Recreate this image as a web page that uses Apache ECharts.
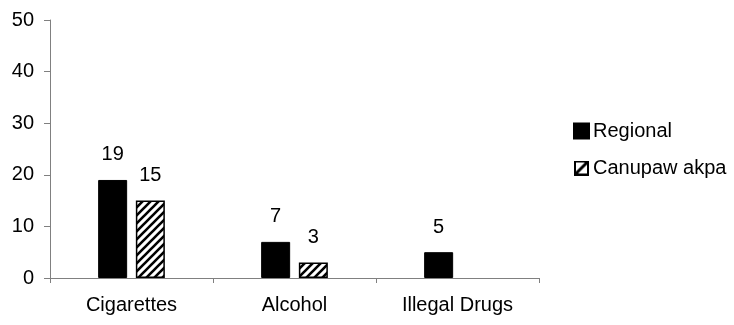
<!DOCTYPE html>
<html>
<head>
<meta charset="utf-8">
<script src="https://cdn.jsdelivr.net/npm/echarts@6/dist/echarts.min.js"></script>
<style>
  html, body { margin: 0; padding: 0; background: #fff; }
  #chart { width: 734px; height: 325px; }
</style>
</head>
<body>
<div id="chart"></div>
<script>
// Substance-use categories and percentages per group
const categories = ['Cigarettes', 'Alcohol', 'Illegal Drugs'];
const regionalValues = [19, 7, 5];
const canupawValues = [15, 3, null];
const seriesNames = ['Regional', 'Canupaw akpa'];
const yTicks = { min: 0, max: 50, interval: 10 };

// Diagonal hatch tile for the second series' bars
function hatchTile() {
  const size = 8;
  const c = document.createElement('canvas');
  c.width = size; c.height = size;
  const ctx = c.getContext('2d');
  ctx.fillStyle = '#fff';
  ctx.fillRect(0, 0, size, size);
  ctx.strokeStyle = '#000';
  ctx.lineWidth = 2.6;
  ctx.beginPath();
  for (let k = -1; k <= 1; k++) {
    ctx.moveTo(k * size - 1, size + 1);
    ctx.lineTo(k * size + size + 1, -1);
  }
  ctx.stroke();
  return c;
}

// Legend swatch: framed square crossed by one thick diagonal
function hatchSwatch() {
  const s = 30;
  const c = document.createElement('canvas');
  c.width = s; c.height = s;
  const ctx = c.getContext('2d');
  ctx.fillStyle = '#fff';
  ctx.fillRect(0, 0, s, s);
  ctx.strokeStyle = '#000';
  ctx.lineWidth = 4;
  ctx.strokeRect(2, 2, s - 4, s - 4);
  ctx.lineWidth = 6;
  ctx.beginPath();
  ctx.moveTo(3, s - 3);
  ctx.lineTo(s - 3, 3);
  ctx.stroke();
  return c.toDataURL();
}

const font = 'Liberation Sans, Arial, sans-serif';
const fontSize = 20;
const chart = echarts.init(document.getElementById('chart'), null, { renderer: 'canvas' });

const labelStyle = {
  show: true, position: 'top', distance: 15,
  color: '#000', fontSize: fontSize, fontFamily: font
};

chart.setOption({
  animation: false,
  backgroundColor: '#fff',
  grid: { left: 50, right: 195, top: 20, bottom: 47, containLabel: false },
  legend: {
    orient: 'vertical',
    left: 568,
    top: 116,
    itemWidth: 15,
    itemHeight: 15,
    itemGap: 17,
    textStyle: { color: '#000', fontSize: fontSize, fontFamily: font, padding: [0, 0, 0, -1] },
    data: [
      { name: seriesNames[0], icon: 'rect' },
      { name: seriesNames[1], icon: 'image://' + hatchSwatch() }
    ]
  },
  xAxis: {
    type: 'category',
    data: categories,
    axisLine: { lineStyle: { color: '#808080', width: 1 } },
    axisTick: { show: true, length: 5, lineStyle: { color: '#808080' } },
    axisLabel: { color: '#000', fontSize: fontSize, fontFamily: font, margin: 17 }
  },
  yAxis: {
    type: 'value',
    min: yTicks.min, max: yTicks.max, interval: yTicks.interval,
    axisLine: { show: true, lineStyle: { color: '#808080', width: 1 } },
    axisTick: { show: true, length: 6, lineStyle: { color: '#808080' } },
    splitLine: { show: false },
    axisLabel: { color: '#000', fontSize: fontSize, fontFamily: font, margin: 16 }
  },
  series: [
    {
      name: seriesNames[0],
      type: 'bar',
      data: regionalValues,
      barWidth: 29,
      barGap: '30%',
      itemStyle: { color: '#000', borderColor: '#000', borderWidth: 1 },
      label: labelStyle
    },
    {
      name: seriesNames[1],
      type: 'bar',
      data: canupawValues,
      barWidth: 29,
      itemStyle: {
        color: { image: hatchTile(), repeat: 'repeat' },
        borderColor: '#000', borderWidth: 1.5
      },
      label: labelStyle
    }
  ]
});
</script>
</body>
</html>
